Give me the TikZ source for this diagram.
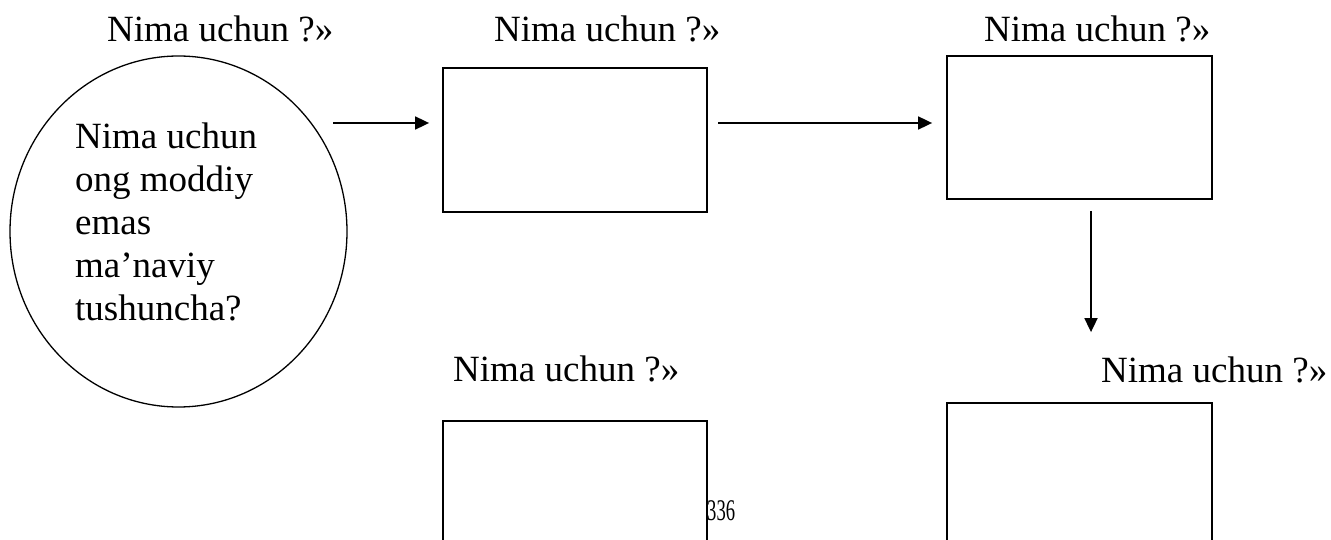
\documentclass[tikz,border=0pt]{standalone}
\usepackage{fontspec}
\usepackage{graphicx}
\setmainfont{Liberation Serif}
\usetikzlibrary{arrows.meta,shapes.geometric}
\begin{document}
\begin{tikzpicture}[x=1pt,y=-1pt,
  box/.style={draw,line width=1.8pt,minimum width=264pt,minimum height=144pt,inner sep=0pt},
  ttl/.style={anchor=base west,inner sep=0pt,font=\fontsize{37}{43}\selectfont},
  arr/.style={line width=1.8pt,-{Triangle[length=14pt,width=13pt]}},
  ]
\useasboundingbox (0,0) rectangle (1331,540);
\clip (0,0) rectangle (1331,540);
% circle with question
\node[draw, ellipse, line width=1.3pt, minimum width=337pt, minimum height=351pt, inner sep=0pt] (c) at (178.5,231.5) {};
\node[anchor=north west, align=left, inner sep=0pt, font=\fontsize{37}{43}\selectfont] (ct) at (75,123) {Nima uchun\\ong moddiy\\emas\\ma’naviy\\tushuncha?};
% boxes
\node[box] (b1) at (575,140) {};
\node[box,minimum width=265pt,minimum height=143pt] (b2) at (1079.5,127.5) {};
\node[box] (b3) at (575,493) {};
\node[box,minimum width=265pt] (b4) at (1079.5,475) {};
% titles
\node[ttl] (t1) at (107,42) {Nima uchun ?»};
\node[ttl] (t2) at (494,42) {Nima uchun ?»};
\node[ttl] (t3) at (984,42) {Nima uchun ?»};
\node[ttl] (t4) at (453,381) {Nima uchun ?»};
\node[ttl] (t5) at (1101,382) {Nima uchun ?»};
% page number
\node[anchor=base west, inner sep=0pt, font=\fontsize{30}{30}\selectfont] (pg) at (707,520) {\scalebox{0.62}[1]{336}};
% arrows
\coordinate (a1s) at (333,123);
\coordinate (a2s) at (718,123);
\coordinate (a3s) at (1091,211);
\draw[arr, shorten >=13pt] (a1s) -- (a1s -| b1.west);
\draw[arr, shorten >=14pt] (a2s) -- (a2s -| b2.west);
\draw[arr, shorten >=70pt] (a3s) -- (a3s |- b4.north);
\end{tikzpicture}
\end{document}
